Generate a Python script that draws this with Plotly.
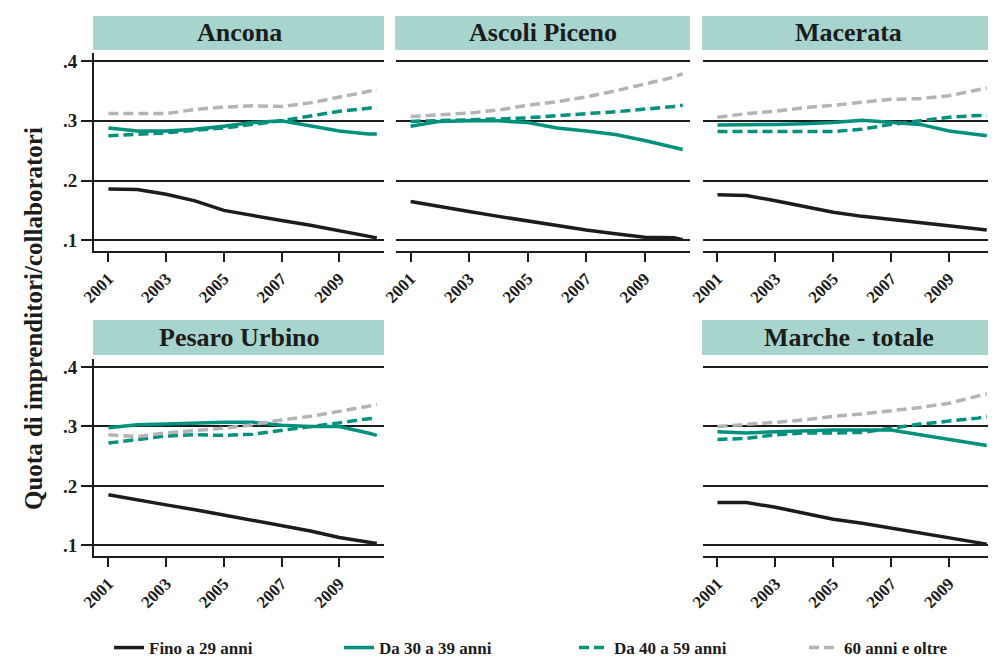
import plotly.graph_objects as go

# ---------------- data ----------------
years = [2001, 2002, 2003, 2004, 2005, 2006, 2007, 2008, 2009, 2010, 2010.3]
tick_years = [2001, 2003, 2005, 2007, 2009]
y_tickvals = [0.1, 0.2, 0.3, 0.4]
y_ticktext = [".1", ".2", ".3", ".4"]

series_names = ["Fino a 29 anni", "Da 30 a 39 anni", "Da 40 a 59 anni", "60 anni e oltre"]
panel_names = ["Ancona", "Ascoli Piceno", "Macerata", "Pesaro Urbino", "Marche - totale"]

ancona_fino = [0.186, 0.185, 0.177, 0.166, 0.150, 0.141, 0.133, 0.125, 0.116, 0.108, 0.104]
ancona_30 = [0.288, 0.283, 0.283, 0.286, 0.291, 0.297, 0.300, 0.291, 0.283, 0.278, 0.278]
ancona_40 = [0.275, 0.277, 0.280, 0.284, 0.288, 0.294, 0.300, 0.308, 0.316, 0.321, 0.323]
ancona_60 = [0.312, 0.312, 0.312, 0.319, 0.323, 0.325, 0.324, 0.330, 0.340, 0.349, 0.352]

ascoli_fino = [0.165, 0.156, 0.148, 0.140, 0.132, 0.125, 0.117, 0.111, 0.105, 0.104, 0.101]
ascoli_30 = [0.291, 0.299, 0.300, 0.300, 0.297, 0.288, 0.283, 0.277, 0.267, 0.256, 0.252]
ascoli_40 = [0.299, 0.300, 0.302, 0.303, 0.305, 0.309, 0.312, 0.315, 0.319, 0.324, 0.326]
ascoli_60 = [0.307, 0.310, 0.313, 0.318, 0.326, 0.332, 0.340, 0.350, 0.362, 0.373, 0.379]

macerata_fino = [0.176, 0.175, 0.166, 0.156, 0.147, 0.140, 0.135, 0.130, 0.125, 0.119, 0.117]
macerata_30 = [0.293, 0.293, 0.294, 0.295, 0.297, 0.301, 0.297, 0.294, 0.283, 0.276, 0.275]
macerata_40 = [0.282, 0.282, 0.282, 0.281, 0.282, 0.286, 0.294, 0.300, 0.306, 0.309, 0.309]
macerata_60 = [0.306, 0.312, 0.316, 0.322, 0.326, 0.331, 0.336, 0.337, 0.342, 0.352, 0.355]

pesaro_fino = [0.185, 0.176, 0.168, 0.160, 0.151, 0.142, 0.134, 0.124, 0.113, 0.105, 0.103]
pesaro_30 = [0.298, 0.303, 0.304, 0.306, 0.307, 0.307, 0.302, 0.300, 0.300, 0.289, 0.285]
pesaro_40 = [0.272, 0.278, 0.284, 0.286, 0.285, 0.287, 0.293, 0.300, 0.306, 0.313, 0.314]
pesaro_60 = [0.286, 0.283, 0.289, 0.293, 0.297, 0.303, 0.311, 0.317, 0.325, 0.334, 0.337]

marche_fino = [0.172, 0.172, 0.164, 0.154, 0.144, 0.137, 0.129, 0.120, 0.112, 0.105, 0.102]
marche_30 = [0.291, 0.289, 0.291, 0.293, 0.294, 0.294, 0.294, 0.286, 0.278, 0.270, 0.268]
marche_40 = [0.278, 0.280, 0.286, 0.289, 0.289, 0.290, 0.297, 0.304, 0.309, 0.314, 0.317]
marche_60 = [0.300, 0.303, 0.307, 0.311, 0.317, 0.321, 0.326, 0.332, 0.339, 0.351, 0.355]

panel_data = [
    [ancona_fino, ancona_30, ancona_40, ancona_60],
    [ascoli_fino, ascoli_30, ascoli_40, ascoli_60],
    [macerata_fino, macerata_30, macerata_40, macerata_60],
    [pesaro_fino, pesaro_30, pesaro_40, pesaro_60],
    [marche_fino, marche_30, marche_40, marche_60],
]

# ---------------- styling ----------------
W, H = 996, 665
ML, MR, MT, MB = 86, 10, 45, 117
PW, PH = W - ML - MR, H - MT - MB

def xp(px):
    return (px - ML) / PW

def yp(py):
    return (H - MB - py) / PH

FONT = "Liberation Serif"
BLACK = "#1c1c1c"
TEAL = "#00917d"
GRAY = "#b3b3b8"
HEADER = "#a7d4cc"

styles = [
    dict(color=BLACK, dash="solid"),
    dict(color=TEAL, dash="solid"),
    dict(color=TEAL, dash="10px,5px"),
    dict(color=GRAY, dash="10px,5px"),
]
legend_ids = ["legend", "legend2", "legend3", "legend4"]
legend_x_px = [101, 331, 566, 796]

col_px = [(86, 376), (388, 682), (695, 986)]
row_px = [(45, 243), (351, 548)]
header_px = [(8, 42), (312, 347)]
positions = [(0, 0), (0, 1), (0, 2), (1, 0), (1, 2)]

fig = go.Figure()
layout = {}
shapes = []
annotations = []

for i, (name, (r, c)) in enumerate(zip(panel_names, positions)):
    ax = "" if i == 0 else str(i + 1)
    for j, s in enumerate(series_names):
        fig.add_trace(go.Scatter(
            x=years, y=panel_data[i][j], mode="lines", name=s,
            legendgroup=s, showlegend=(i == 0), legend=legend_ids[j],
            line=dict(color=styles[j]["color"], dash=styles[j]["dash"], width=3.5),
            xaxis="x" + ax, yaxis="y" + ax,
        ))
    x0, x1 = col_px[c]
    y0, y1 = row_px[r]
    first_col = c == 0
    layout["xaxis" + ax] = dict(
        domain=[max(0, xp(x0)), min(1, xp(x1))], anchor="y" + ax,
        range=[2000.5, 2010.55], tickvals=tick_years,
        ticktext=[str(t) for t in tick_years], tickangle=-45,
        ticks="outside", ticklen=9, tickwidth=2, tickcolor=BLACK,
        showline=True, linecolor=BLACK, linewidth=2, showgrid=False,
        zeroline=False,
        tickfont=dict(family=FONT, size=17, color=BLACK, weight="bold"),
    )
    layout["yaxis" + ax] = dict(
        domain=[max(0, yp(y1)), min(1, yp(y0))], anchor="x" + ax,
        range=[0.082, 0.4135], tickvals=y_tickvals, ticktext=y_ticktext,
        showticklabels=first_col,
        ticks="outside" if first_col else "", ticklen=11, tickwidth=2, tickcolor=BLACK,
        showline=first_col, linecolor=BLACK, linewidth=2,
        showgrid=True, gridcolor=BLACK, gridwidth=2, zeroline=False,
        tickfont=dict(family=FONT, size=19, color=BLACK, weight="bold"),
    )
    hy0, hy1 = header_px[r]
    shapes.append(dict(type="rect", xref="paper", yref="paper",
                       x0=xp(x0 - 1), x1=xp(x1), y0=yp(hy1), y1=yp(hy0),
                       fillcolor=HEADER, line=dict(width=0), layer="below"))
    annotations.append(dict(text=name, xref="paper", yref="paper",
                            x=(xp(x0) + xp(x1)) / 2, y=(yp(hy0) + yp(hy1)) / 2,
                            xanchor="center", yanchor="middle", showarrow=False,
                            font=dict(family=FONT, size=26, color=BLACK, weight="bold")))

annotations.append(dict(text="Quota di imprenditori/collaboratori", xref="paper", yref="paper",
                        x=xp(25), y=yp(311), textangle=-90, showarrow=False,
                        xanchor="center", yanchor="middle",
                        font=dict(family=FONT, size=25, color=BLACK, weight="bold")))

legend_font = dict(family=FONT, size=17, color=BLACK, weight="bold")
for lid, lx in zip(legend_ids, legend_x_px):
    layout[lid] = dict(orientation="h", xref="container", yref="container",
                       x=lx / W, y=(H - 640) / H, xanchor="left", yanchor="middle",
                       font=legend_font, bgcolor="rgba(0,0,0,0)")

fig.update_layout(
    width=W, height=H,
    margin=dict(l=ML, r=MR, t=MT, b=MB),
    paper_bgcolor="white", plot_bgcolor="white",
    shapes=shapes, annotations=annotations,
    showlegend=True,
    **layout,
)

fig.write_html("out.html")
